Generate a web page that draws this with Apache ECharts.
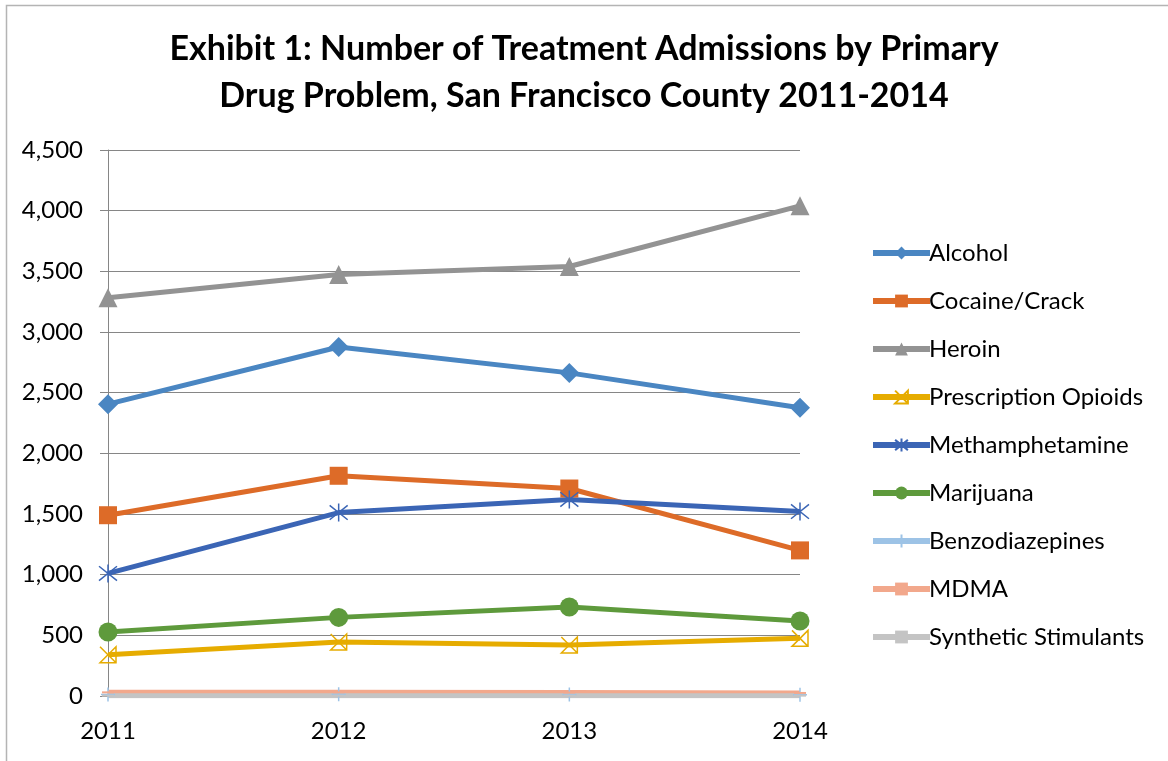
<!DOCTYPE html>
<html>
<head>
<meta charset="utf-8">
<script src="https://cdn.jsdelivr.net/npm/echarts@6/dist/echarts.min.js"></script>
<style>
html,body{margin:0;padding:0;background:#fff;}
#main{width:1168px;height:761px;}
</style>
</head>
<body>
<div id="main"></div>
<script>
// 年份（横轴）
var years = ['2011', '2012', '2013', '2014'];
// 各药物入院人数
var alcohol = [2405, 2876, 2663, 2375];
var cocaine = [1490, 1815, 1710, 1200];
var heroin = [3283, 3473, 3540, 4040];
var rxOpioids = [340, 445, 420, 475];
var meth = [1010, 1512, 1620, 1520];
var marijuana = [528, 648, 733, 618];
var benzo = [12, 14, 12, 10];
var mdma = [30, 30, 28, 25];
var synthetic = [3, 3, 3, 3];
var yTicks = [0, 500, 1000, 1500, 2000, 2500, 3000, 3500, 4000, 4500];

var FONT = 'Lato';
var DASH = 'path://M0,0 L10,0 L10,2 L0,2 Z';

function mkLine(name, data, color, symbol, size, hollow){
	return {
		name: name,
		type: 'line',
		data: data,
		symbol: symbol,
		symbolSize: size,
		lineStyle: {color: color, width: 5},
		itemStyle: hollow ? {color: 'rgba(0,0,0,0)', borderColor: color, borderWidth: 1.5} : {color: color},
		emphasis: {disabled: true},
		animation: false
	};
}

var myChart = echarts.init(document.getElementById('main'));
var options = {
	backgroundColor: '#fff',
	title: {
		text: 'Exhibit 1: Number of Treatment Admissions by Primary\nDrug Problem, San Francisco County 2011-2014',
		left: 'center',
		top: 21,
		textStyle: {fontFamily: FONT, fontWeight: 'bold', fontSize: 34, lineHeight: 47, color: '#000'}
	},
	graphic: [{			//外框
		type: 'rect',
		shape: {x: 6.5, y: 5.5, width: 1200, height: 800},
		style: {fill: null, stroke: '#b4b4b4', lineWidth: 1.5},
		silent: true
	}],
	legend: {
		orient: 'vertical',
		left: 865,
		top: 236,
		itemWidth: 57,
		itemHeight: 16,
		itemGap: 24,
		lineStyle: {width: 6},
		textStyle: {fontFamily: FONT, fontSize: 24, color: '#000', padding: [0, 0, 0, -6]},
		data: ['Alcohol', 'Cocaine/Crack', 'Heroin', 'Prescription Opioids', 'Methamphetamine',
			'Marijuana', 'Benzodiazepines', 'MDMA', 'Synthetic Stimulants']
	},
	grid: {left: 108, right: 368, top: 150, bottom: 65},
	xAxis: {
		type: 'category',
		data: years,
		boundaryGap: false,
		axisLine: {show: false},
		axisTick: {show: false},
		axisLabel: {fontFamily: FONT, fontSize: 24, color: '#000', margin: 23}
	},
	yAxis: {
		type: 'value',
		min: 0,
		max: 4500,
		interval: 500,
		axisLine: {show: true, lineStyle: {color: '#868686', width: 1}},
		axisTick: {show: true, length: 8, lineStyle: {color: '#868686'}},
		splitLine: {lineStyle: {color: '#868686', width: 1}},
		axisLabel: {
			fontFamily: FONT, fontSize: 24, color: '#000', margin: 25,
			formatter: function(v){ return yTicks.indexOf(v) >= 0 ? v.toLocaleString('en-US') : ''; }
		}
	},
	series: [
		mkLine('Alcohol', alcohol, '#4A86C2', 'diamond', 20, false),
		mkLine('Cocaine/Crack', cocaine, '#DD6B28', 'rect', 18, false),
		mkLine('Heroin', heroin, '#939393', 'triangle', 19, false),
		mkLine('Prescription Opioids', rxOpioids, '#E6AC00',
			'path://M0,0 L10,10 M10,0 L0,10 L10,10 Z', 16, true),
		mkLine('Methamphetamine', meth, '#3B65B5',
			'path://M5,0 L5,10 M0,1 L10,9 M10,1 L0,9 M5,0 Z', 18, true),
		mkLine('Marijuana', marijuana, '#5E9A3C', 'circle', 19, false),
		mkLine('Benzodiazepines', benzo, '#9DC3E6',
			'path://M5,0 L5,10 M0,5 L10,5 M5,0 Z', 14, true),
		mkLine('MDMA', mdma, '#F2A88C', DASH, [12, 2], false),
		mkLine('Synthetic Stimulants', synthetic, '#C4C4C4', DASH, [12, 2], false)
	]
};
myChart.setOption(options);
</script>
</body>
</html>
